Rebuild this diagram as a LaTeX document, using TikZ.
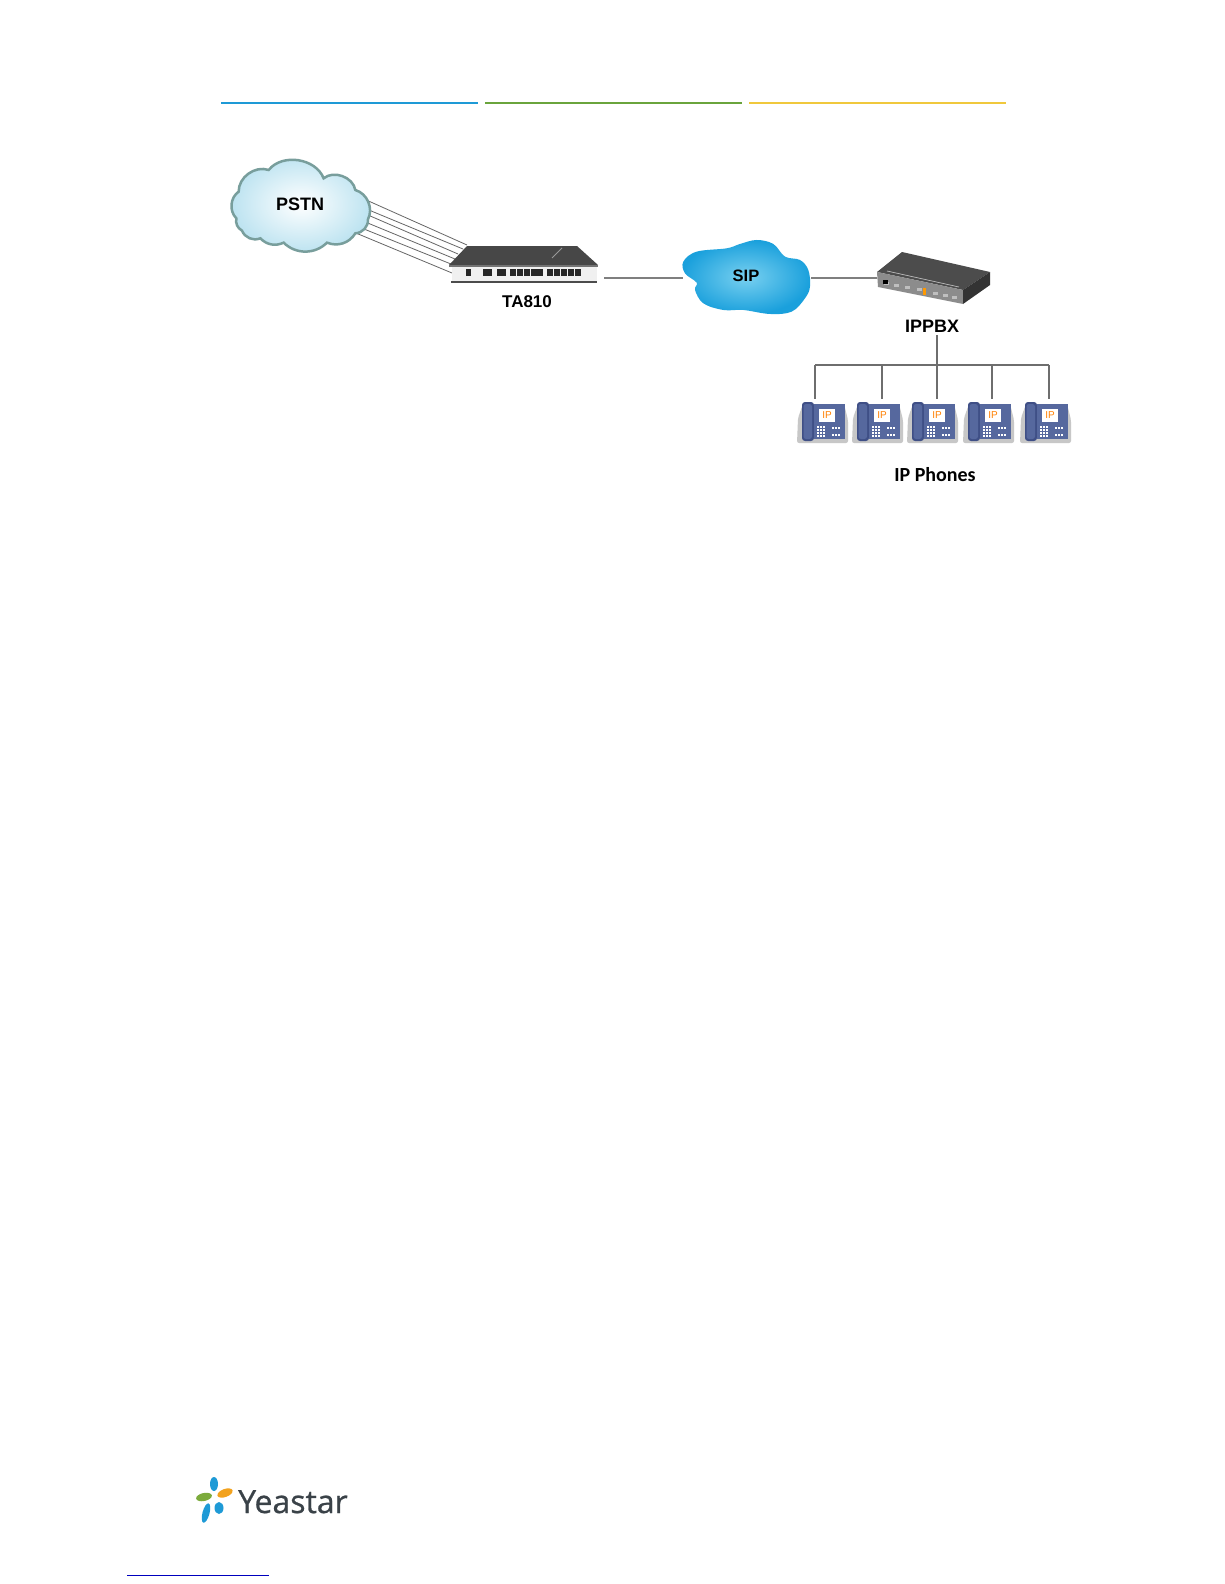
\documentclass[tikz,border=0pt]{standalone}
\usepackage{fontspec}
\setmainfont{Liberation Sans}
\newfontfamily\labelfont{Carlito}
\newfontfamily\logofont[FakeBold=0.8]{Open Sans}
\definecolor{wire}{HTML}{7F7F7F}
\definecolor{bus}{HTML}{6E6E6E}
\definecolor{phonebody}{HTML}{56689E}
\definecolor{phonedark}{HTML}{3F4F86}
\definecolor{logoblue}{HTML}{1E9AD6}
\definecolor{logogreen}{HTML}{7CAB3C}
\definecolor{logoorange}{HTML}{F2A21E}
\definecolor{logotext}{HTML}{3A4248}
\definecolor{ruleblue}{HTML}{1E9AD6}
\definecolor{rulegreen}{HTML}{6AA43C}
\definecolor{ruleyellow}{HTML}{F0C83C}
\definecolor{linkblue}{HTML}{0000BE}
\definecolor{pstnedge}{HTML}{789E9C}
\definecolor{pstnfill}{HTML}{BAE2F0}
\definecolor{sipin}{HTML}{78D0F0}
\definecolor{sipout}{HTML}{1AA0DC}
\tikzset{
  devlabel/.style={font=\bfseries\fontsize{17}{20}\selectfont, inner sep=0pt},
  wireline/.style={wire, line width=2pt},
  busline/.style={bus, line width=1.6pt},
  trunkline/.style={black!60, line width=.8pt},
  toprule/.style={line width=1.2pt},
}
\begin{document}
\begin{tikzpicture}[>=latex, x=1pt, y=-1pt]
\useasboundingbox (0,0) rectangle (1224,1584);
\fill[white] (0,0) rectangle (1224,1584);
% header rules
\draw[toprule, ruleblue] (221,103)--(478,103);
\draw[toprule, rulegreen] (485,103)--(742,103);
\draw[toprule, ruleyellow] (749,103)--(1006,103);

% trunk lines behind the cloud
\foreach \i/\sx/\sy/\tx/\ty in {1/364/199/467/245,2/364/208/463/249,3/361/212/458/254,4/358/219/455/259,5/354/225/451/264,6/351/231/452/273}{
  \coordinate (p\i) at (\sx,\sy);
  \coordinate (t\i) at (\tx,\ty);
  \draw[trunkline] (p\i)--(t\i);
}
% PSTN cloud, crop scale
\begin{scope}[shift={(207,90)}, x=.3333pt, y=-.3333pt]
\path[draw=pstnedge, line width=2.5pt, inner color=white, outer color=pstnfill]
  (95,305) to[bend left=55] (185,240) to[bend left=60] (350,265) to[bend left=60] (445,300)
  to[bend left=50] (483,388) to[bend left=45] (445,430) to[bend left=40] (360,458)
  to[bend left=45] (230,458) to[bend left=35] (160,445) to[bend left=45] (105,422)
  to[bend left=35] (88,385) to[bend left=50] (95,305) -- cycle;
\end{scope}
\node[font=\bfseries\fontsize{18}{20}\selectfont, inner sep=0pt] (pstn) at (300,204) {PSTN};

% TA810
\fill[black!72] (467,246)--(577,246)--(598,265)--(449,265)--cycle;
\draw[black!40, line width=.8pt] (552,258)--(562,248);
\fill[black!55] (449,265)--(598,265)--(598,267)--(449,267)--cycle;
\node[draw=none, fill=black!6, minimum width=145pt, minimum height=14pt, inner sep=0pt] (ta) at (524.5,274) {};
\fill[black!70] (451,281) rectangle (597,283);
\fill[black!85] (466,269) rectangle (471,276);
\fill[black!85] (483,269) rectangle (492,276);
\fill[black!85] (497,269) rectangle (506,276);
\foreach \x in {510,517,524,531,537,547,554,561,568,575}{
  \fill[black!85] (\x,269) rectangle (\x+5.8,276);
}
\node[devlabel] (talabel) at (527,302) {TA810};

% SIP cloud, crop scale
\begin{scope}[shift={(600,90)}, x=.3333pt, y=-.3333pt]
\path[inner color=sipin, outer color=sipout] plot[smooth cycle, tension=.6] coordinates {
  (250,515) (290,485) (380,475) (420,462) (470,450) (520,462) (555,500) (600,510) (625,540)
  (630,590) (615,625) (575,665) (510,672) (430,660) (370,660) (310,640) (285,600) (290,578) (255,550)};
\end{scope}
\node[font=\bfseries\fontsize{16.5}{20}\selectfont, inner sep=0pt] (sip) at (746,276) {SIP};
\coordinate (talink) at (604,278);
\coordinate (sipw) at (683,278);
\coordinate (sipe) at (811,278);
\draw[wireline] (talink)--(sipw);

% IPPBX
\fill[black!70] (902,252)--(990,272)--(963,290)--(877,272)--cycle;
\fill[black!45] (877,272)--(963,290)--(963,304)--(878,287)--cycle;
\fill[black!80] (963,290)--(990,272)--(990,285)--(963,304)--cycle;
\draw[black!25, line width=.7pt] (887,271)--(959,287);
\foreach \x/\y in {884/282,894/284,905/286,917/288,933/292,943/294,952/296}{
  \fill[black!25] (\x,\y) rectangle (\x+5,\y+3);
}
\fill[black] (883,280) rectangle (888,284);
\fill[orange!80!yellow] (923,288) rectangle (926,295);
\coordinate (pbxport) at (877,278);
\draw[wireline] (sipe)--(pbxport);
\node[devlabel, font=\bfseries\fontsize{18}{20}\selectfont] (ippbx) at (932,326) {IPPBX};

% phones
\foreach \i/\ox/\lx in {1/802/815,2/857/882,3/912/937,4/968/992,5/1025/1049}{
  \begin{scope}[shift={(\ox,0)}]
  \fill[black!22, rounded corners=2pt] (-5,443) -- (-4,418) -- (1,404) -- (42,404) -- (46,420) -- (46,443) -- cycle;
  \fill[phonedark, rounded corners=3pt] (0,402) rectangle (12,441);
  \fill[phonebody, rounded corners=2.5pt] (1.5,404) rectangle (10,439);
  \node[fill=phonebody, minimum width=31pt, minimum height=35pt, inner sep=0pt] (ph\i) at (27.5,421.5) {};
  \node[fill=white, minimum width=16pt, minimum height=13pt, inner sep=0pt, text=orange, font=\fontsize{10}{10}\selectfont] (sc\i) at (25,415) {IP};
  \foreach \px in {15,18,21}{\foreach \py in {426,429,432,435}{
    \fill[white] (\px,\py) rectangle (\px+1.6,\py+1.6);
  }}
  \foreach \px in {30,33,36}{
    \fill[white] (\px,434) rectangle (\px+1.6,435.6);
    \fill[white] (\px,427) rectangle (\px+1.6,428.6);
  }
  \end{scope}
  \coordinate (drop\i) at (\lx,365);
  \draw[busline] (drop\i)--(\lx,399);
}
\draw[busline] (drop1)--(drop5);
\coordinate (busjoin) at (937,365);
\coordinate (pbxdrop) at (937,335);
\draw[busline] (pbxdrop)--(busjoin);
\node[inner sep=0pt, font=\labelfont\bfseries\fontsize{20}{22}\selectfont] (phones) at (935,475) {IP Phones};

% logo
\fill[logoblue] (214,1484) ellipse [x radius=4, y radius=7];
\fill[logoorange, rotate around={20:(225,1493)}] (225,1493) ellipse [x radius=8, y radius=4];
\fill[logogreen, rotate around={12:(204,1497)}] (204,1497) ellipse [x radius=8, y radius=4];
\fill[logoblue] (219,1508) ellipse [x radius=4.5, y radius=6];
\fill[logoblue, rotate around={-15:(206,1513)}] (206,1513) ellipse [x radius=3.5, y radius=10];
\node[anchor=base west, inner sep=0pt, text=logotext, font=\logofont\fontsize{32}{36}\selectfont] (logo) at (238,1513) {Yeastar};
\draw[linkblue, line width=1pt] (127,1575)--(269,1575);
\end{tikzpicture}
\end{document}
